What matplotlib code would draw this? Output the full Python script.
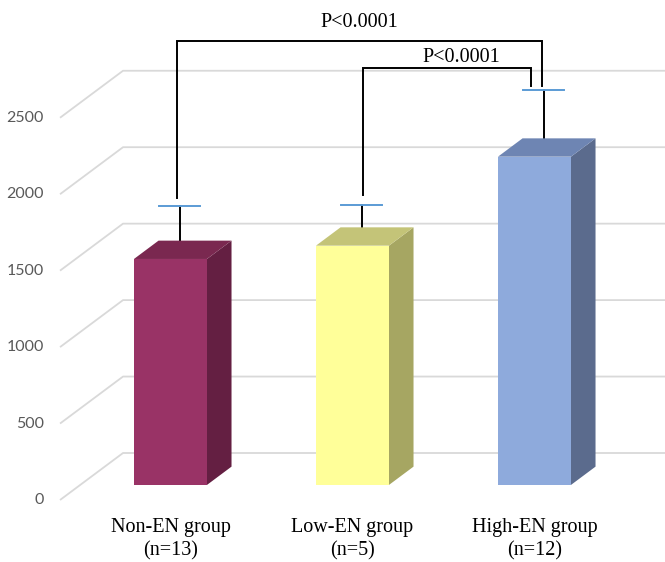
import matplotlib
matplotlib.use('Agg')
import matplotlib.pyplot as plt
from matplotlib.patches import Polygon
from matplotlib.transforms import offset_copy

# ---- data ----
categories = ['Non-EN group\n(n=13)', 'Low-EN group\n(n=5)', 'High-EN group\n(n=12)']
means = [1478, 1565, 2147]
errors = [302, 218, 390]
yticks = [0, 500, 1000, 1500, 2000, 2500]
ytick_labels = ['0', '500', '1000', '1500', '2000', '2500']
front_colors = ['#993366', '#ffff99', '#8eaadc']
top_colors = ['#7a2850', '#c4c478', '#6e85b3']
side_colors = ['#641f42', '#a6a662', '#5b6b8d']
# significance brackets: (left group, right group, label, bracket level, left leg end, right leg end)
brackets = [(0, 2, 'P<0.0001', 2857, 1831, 2563),
            (1, 2, 'P<0.0001', 2681, 1850, 2563)]

# ---- pseudo-3D geometry (in data units) ----
DX = 63 / 182.0      # category units per unit depth
DY = 47 / 0.1529     # value units per unit depth
D0, D1 = 0.32, 0.71  # bar front/back depth
DE = 0.47            # error bar depth
W = 0.401            # bar width (category units)
CAP = 0.113          # half cap width
X_LEFT = -0.496      # left edge of the floor
X_RIGHT = 2.482      # right end of back wall at depth 1


def P(c, v, d):
    return (c + d * DX, v + d * DY)


fig = plt.figure(figsize=(6.65, 5.62), dpi=100)
ax = fig.add_axes([0, 0, 1, 1])
ax.set_xlim(-0.8258, 2.828)
ax.set_ylim(-405.5, 3270.1)
ax.axis('off')

grid_c = '#d9d9d9'
for t, lab in zip(yticks, ytick_labels):
    x0, y0 = P(X_LEFT, t, 0)
    x1, y1 = P(X_LEFT, t, 1)
    x2, y2 = P(X_RIGHT, t, 1)
    ax.plot([x0, x1, x2], [y0, y1, y2], color=grid_c, lw=1.3, zorder=1,
            solid_capstyle='butt')
    tr = offset_copy(ax.transData, fig=fig, x=-16, y=0, units='dots')
    ax.text(x0, y0, lab, transform=tr, ha='right', va='center',
            fontsize=11.5, color='#595959', family=['Lato', 'DejaVu Sans'])

for i, (m, e) in enumerate(zip(means, errors)):
    # error line (behind the bar)
    ex, ey0 = P(i, m, DE)
    _, ey1 = P(i, m + e, DE)
    ax.plot([ex, ex], [ey0, ey1], color='black', lw=1.4, zorder=2)
    ax.plot([ex - CAP, ex + CAP], [ey1, ey1], color='#5b9bd5', lw=1.4, zorder=5)
    xl, xr = i - W / 2, i + W / 2
    side = [P(xr, 0, D0), P(xr, 0, D1), P(xr, m, D1), P(xr, m, D0)]
    top = [P(xl, m, D0), P(xr, m, D0), P(xr, m, D1), P(xl, m, D1)]
    front = [P(xl, 0, D0), P(xr, 0, D0), P(xr, m, D0), P(xl, m, D0)]
    ax.add_patch(Polygon(side, closed=True, facecolor=side_colors[i], edgecolor='none', zorder=3))
    ax.add_patch(Polygon(top, closed=True, facecolor=top_colors[i], edgecolor='none', zorder=3))
    ax.add_patch(Polygon(front, closed=True, facecolor=front_colors[i], edgecolor='none', zorder=3))
    lx, ly = P(i, 0, D0)
    ax.text(lx, -257, categories[i], ha='center', va='center', fontsize=14.5,
            family=['Liberation Serif', 'DejaVu Serif'], color='black', linespacing=1.3)

# brackets
leg_shift = [(-3 / 182, -2 / 182), (1 / 182, -13 / 182)]
text_shift = [0, 14 / 182]
text_raise = [14, 6]
for k, (a, b, lab, lvl, la, lb) in enumerate(brackets):
    xa = P(a, 0, DE)[0] + leg_shift[k][0]
    xb = P(b, 0, DE)[0] + leg_shift[k][1]
    ya_top = P(0, lvl, DE)[1]
    ya_bot = P(0, la, DE)[1]
    yb_bot = P(0, lb, DE)[1]
    ax.plot([xa, xa, xb, xb], [ya_bot, ya_top, ya_top, yb_bot], color='black',
            lw=1.4, zorder=6, solid_joinstyle='miter')
    tr = offset_copy(ax.transData, fig=fig, x=0, y=text_raise[k], units='dots')
    ax.text((xa + xb) / 2 + text_shift[k], ya_top, lab, transform=tr,
            ha='center', va='baseline', fontsize=14.5,
            family=['Liberation Serif', 'DejaVu Serif'], color='black')

fig.savefig('out.png', dpi=100)
